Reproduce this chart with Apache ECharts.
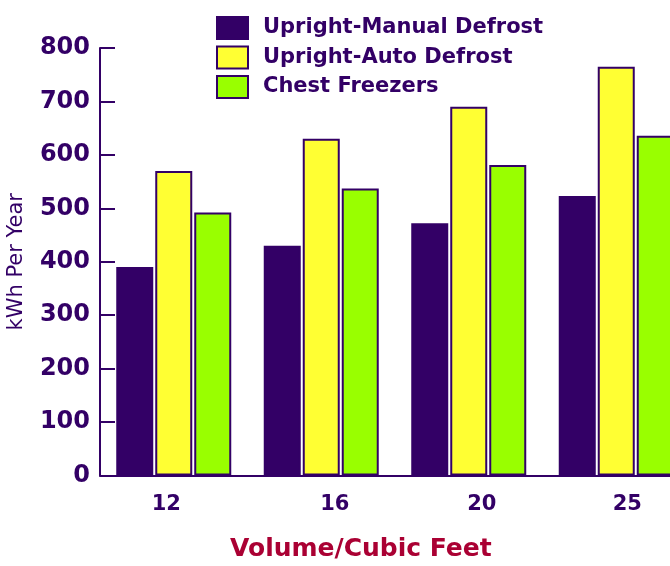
<!DOCTYPE html>
<html>
<head>
<meta charset="utf-8">
<script src="https://cdn.jsdelivr.net/npm/echarts@6/dist/echarts.min.js"></script>
<style>html,body{margin:0;padding:0;background:#fff;}#c{width:670px;height:566px;}</style>
</head>
<body>
<div id="c"></div>
<script>
const categories = ['12', '16', '20', '25'];
const manualDefrost = [390, 430, 472, 523];
const autoDefrost = [570, 630, 690, 765];
const chestFreezers = [492, 537, 581, 636];
const yTicks = { min: 0, max: 800, interval: 100 };

const seriesNames = ['Upright-Manual Defrost', 'Upright-Auto Defrost', 'Chest Freezers'];
const PURPLE = '#330066';
const labelShift = [-7.5, 13.5, 13, 11];

const chart = echarts.init(document.getElementById('c'), null, { renderer: 'canvas' });
const font = 'DejaVu Sans';
function bar(name, data, color) {
  return {
    name: name, type: 'bar', data: data, barWidth: 37, barGap: '5.4%',
    itemStyle: { color: color, borderColor: PURPLE, borderWidth: 2 }
  };
}
chart.setOption({
  animation: false,
  backgroundColor: '#fff',
  title: {
    text: 'Volume/Cubic Feet', left: 225, top: 532,
    textStyle: { color: '#aa0033', fontFamily: font, fontWeight: 'bold', fontSize: 25 }
  },
  legend: {
    orient: 'vertical', left: 216, top: 15, padding: 0,
    icon: 'rect',
    itemWidth: 31, itemHeight: 22, itemGap: 3.5,
    data: seriesNames,
    textStyle: { color: PURPLE, fontFamily: font, fontWeight: 'bold', fontSize: 21, lineHeight: 22, padding: [0, 0, 4, 10] }
  },
  grid: { left: 100, top: 48, width: 590, height: 427.5, containLabel: false, outerBoundsMode: 'none' },
  xAxis: {
    type: 'category',
    data: categories.map((c, i) => ({
      value: c,
      textStyle: { padding: labelShift[i] >= 0 ? [0, 0, 0, 2 * labelShift[i]] : [0, -2 * labelShift[i], 0, 0] }
    })),
    axisLine: { lineStyle: { color: PURPLE, width: 2 } },
    axisTick: { show: false },
    axisLabel: { color: PURPLE, fontFamily: font, fontWeight: 'bold', fontSize: 21, margin: 19 }
  },
  yAxis: {
    type: 'value', min: yTicks.min, max: yTicks.max, interval: yTicks.interval,
    name: 'kWh Per Year', nameLocation: 'middle', nameGap: 73, nameRotate: 90,
    nameTextStyle: { color: PURPLE, fontFamily: font, fontSize: 21 },
    axisLine: { show: true, lineStyle: { color: PURPLE, width: 2 } },
    axisTick: { show: true, inside: true, length: 15, lineStyle: { color: PURPLE, width: 2 } },
    splitLine: { show: false },
    axisLabel: { color: PURPLE, fontFamily: font, fontWeight: 'bold', fontSize: 24, margin: 10 }
  },
  series: [
    bar(seriesNames[0], manualDefrost, PURPLE),
    bar(seriesNames[1], autoDefrost, '#ffff33'),
    bar(seriesNames[2], chestFreezers, '#99ff00')
  ]
});
</script>
</body>
</html>
